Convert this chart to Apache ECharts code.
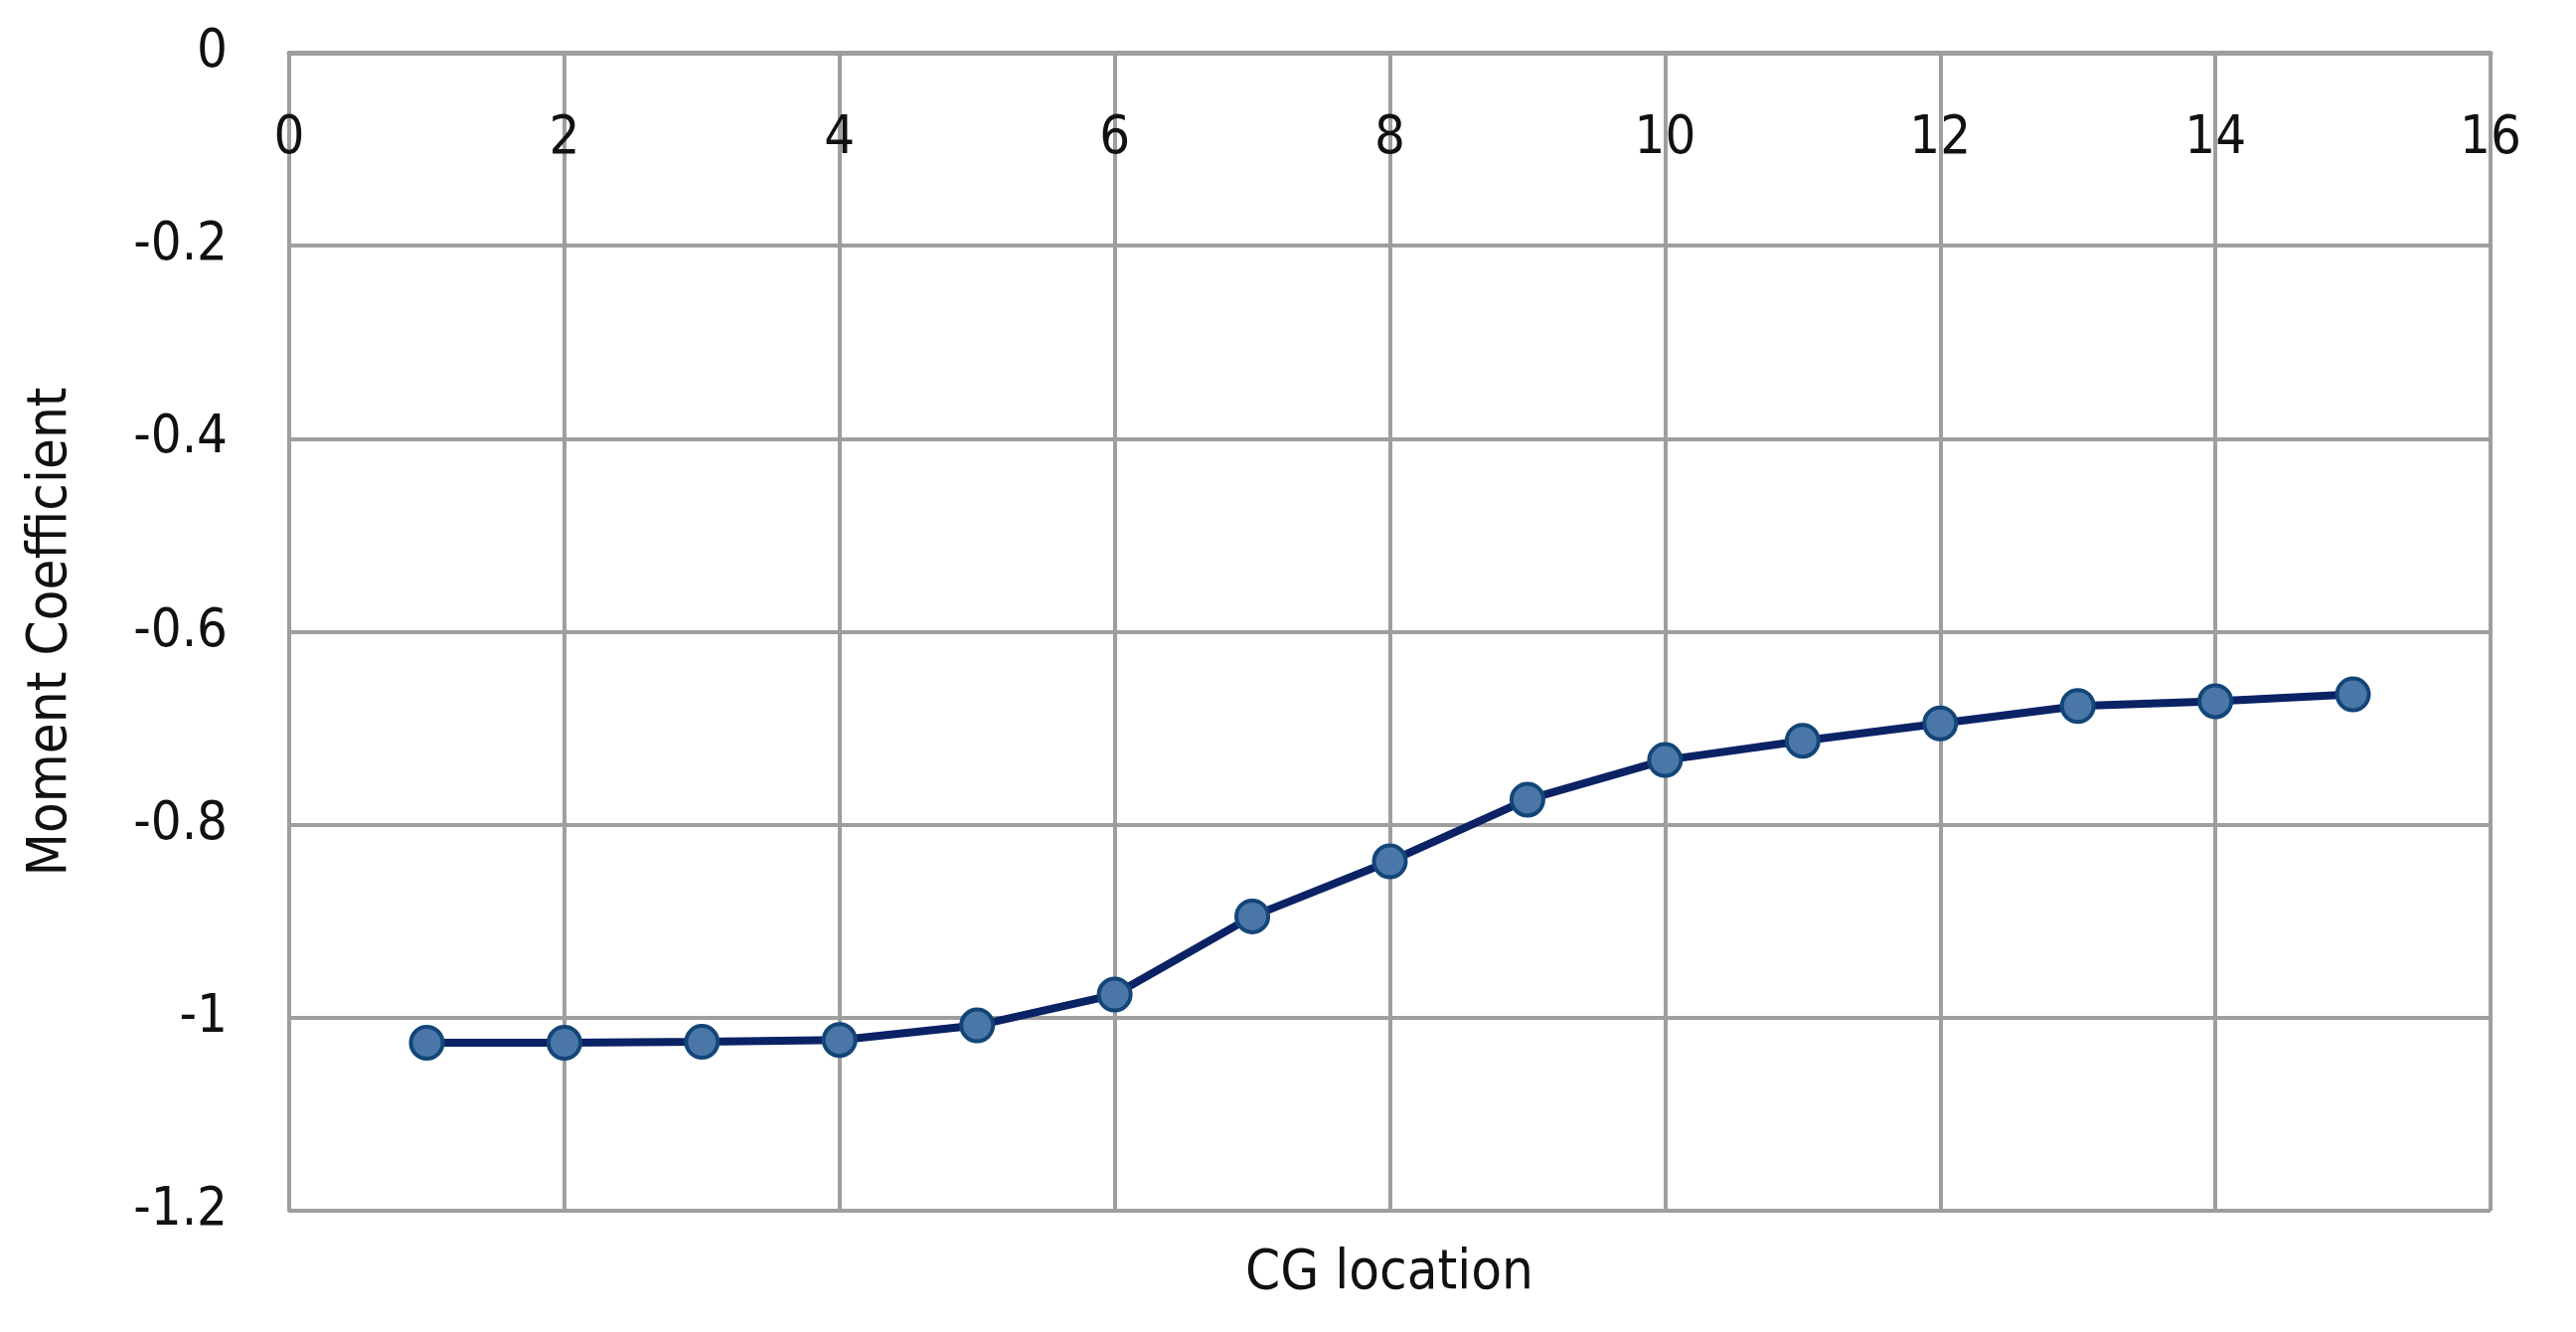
<!DOCTYPE html>
<html>
<head>
<meta charset="utf-8">
<script src="https://cdn.jsdelivr.net/npm/echarts@6/dist/echarts.min.js"></script>
<style>
  html, body { margin: 0; padding: 0; background: #fff; }
  #chart { width: 2592px; height: 1340px; }
</style>
</head>
<body>
<div id="chart"></div>
<script>
// CG location index and moment coefficient
const cgLocation = [1, 2, 3, 4, 5, 6, 7, 8, 9, 10, 11, 12, 13, 14, 15];
const momentCoef = [-1.026, -1.026, -1.025, -1.023, -1.008, -0.976, -0.895, -0.838, -0.774, -0.733, -0.713, -0.695, -0.677, -0.672, -0.665];

const xName = 'CG location';
const yName = 'Moment Coefficient';

const font = "'Liberation Sans Narrow', 'DejaVu Sans Condensed', 'Open Sans', sans-serif";
const gridColor = '#9e9e9e';
const textColor = '#111';

const chart = echarts.init(document.getElementById('chart'));

chart.setOption({
    animation: false,
    backgroundColor: '#fff',
    grid: { left: 291, right: 86, top: 53, bottom: 122 },
    xAxis: {
        type: 'value',
        position: 'top',
        min: 0, max: 16, interval: 2,
        axisLine: { show: true, lineStyle: { color: gridColor, width: 5 } },
        axisTick: { show: false },
        axisLabel: {
            inside: true, margin: 60,
            fontFamily: font, fontSize: 54, color: textColor
        },
        splitLine: { show: true, lineStyle: { color: gridColor, width: 4 } }
    },
    yAxis: {
        type: 'value',
        min: -1.2, max: 0, interval: 0.2,
        name: yName,
        nameLocation: 'middle',
        nameRotate: 90,
        nameGap: 212,
        nameTextStyle: { fontFamily: font, fontSize: 56, color: textColor },
        axisLine: { show: true, lineStyle: { color: gridColor, width: 4 } },
        axisTick: { show: false },
        axisLabel: {
            margin: 62,
            fontFamily: font, fontSize: 54, color: textColor,
            formatter: v => String(Math.round(v * 10) / 10)
        },
        splitLine: { show: true, lineStyle: { color: gridColor, width: 4 } }
    },
    graphic: [{
        type: 'text',
        x: 1398, y: 1281,
        style: {
            text: xName,
            fontFamily: font, fontSize: 56, fill: textColor,
            align: 'center', verticalAlign: 'middle'
        }
    }],
    series: [{
        type: 'line',
        data: cgLocation.map((x, i) => [x, momentCoef[i]]),
        symbol: 'circle',
        symbolSize: 32,
        lineStyle: { color: '#0b2265', width: 8 },
        itemStyle: { color: '#4b77a8', borderColor: '#134678', borderWidth: 4 }
    }]
});
</script>
</body>
</html>
